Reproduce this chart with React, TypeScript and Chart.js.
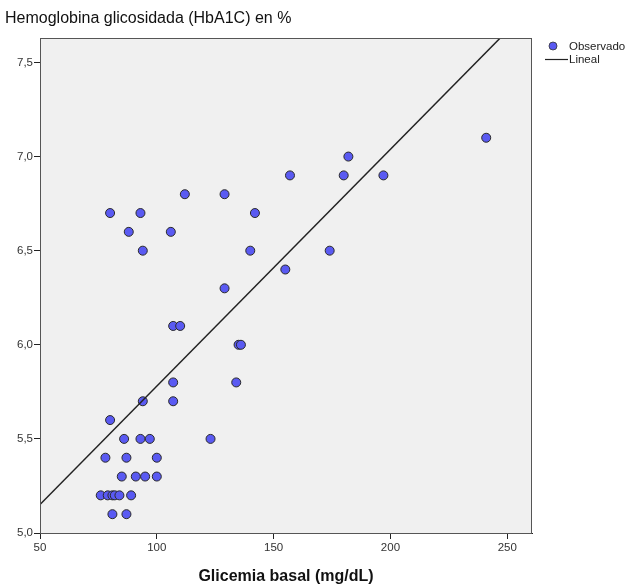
import React, { useEffect, useRef } from "react";
import { Chart, registerables } from "chart.js";

Chart.register(...registerables);

const glicemia: number[] = [
  107, 134, 94, 107, 80, 86, 93, 97, 123, 78, 87, 100, 85, 91, 95, 100,
  76, 79, 81, 82, 84, 89, 81, 87,
  112, 129, 80, 93, 142, 88, 106, 94, 140, 129, 107, 110, 135, 136,
  241, 182, 157, 180, 197, 174, 155,
];
const hba1c: number[] = [
  5.8, 5.8, 5.7, 5.7, 5.6, 5.5, 5.5, 5.5, 5.5, 5.4, 5.4, 5.4, 5.3, 5.3, 5.3, 5.3,
  5.2, 5.2, 5.2, 5.2, 5.2, 5.2, 5.1, 5.1,
  6.8, 6.8, 6.7, 6.7, 6.7, 6.6, 6.6, 6.5, 6.5, 6.3, 6.1, 6.1, 6.0, 6.0,
  7.1, 7.0, 6.9, 6.9, 6.9, 6.5, 6.4,
];
const lineX: number[] = [50, 247];
const lineY: number[] = [5.151, 7.63];
const xTicks: number[] = [50, 100, 150, 200, 250];
const yTicks: number[] = [5.0, 5.5, 6.0, 6.5, 7.0, 7.5];

const TITLE = "Hemoglobina glicosidada (HbA1C) en %";
const X_TITLE = "Glicemia basal (mg/dL)";
const FONT = "'Liberation Sans', Arial, sans-serif";

export default function App() {
  const ref = useRef<HTMLCanvasElement | null>(null);

  useEffect(() => {
    if (!ref.current) return;
    const decor = {
      id: "decor",
      beforeDatasetsDraw(chart: any) {
        const { ctx, chartArea: a } = chart;
        ctx.save();
        ctx.fillStyle = "#F0F0F0";
        ctx.fillRect(a.left, a.top, a.right - a.left, a.bottom - a.top);
        ctx.restore();
      },
      afterDraw(chart: any) {
        const { ctx, chartArea: a } = chart;
        ctx.save();
        ctx.strokeStyle = "#555";
        ctx.lineWidth = 1;
        ctx.strokeRect(a.left + 0.5, a.top + 0.5, a.right - a.left - 1, a.bottom - a.top);
        ctx.fillStyle = "#111";
        ctx.font = `16px ${FONT}`;
        ctx.textAlign = "left";
        ctx.textBaseline = "middle";
        ctx.fillText(TITLE, 5, 19);
        ctx.font = `bold 16px ${FONT}`;
        ctx.textAlign = "center";
        ctx.fillText(X_TITLE, (a.left + a.right) / 2, 577);
        // legend
        ctx.font = `11.5px ${FONT}`;
        ctx.textAlign = "left";
        ctx.beginPath();
        ctx.arc(553, 46, 4, 0, Math.PI * 2);
        ctx.fillStyle = "#5A5AF2";
        ctx.fill();
        ctx.strokeStyle = "#333";
        ctx.lineWidth = 0.8;
        ctx.stroke();
        ctx.fillStyle = "#222";
        ctx.fillText("Observado", 569, 47);
        ctx.beginPath();
        ctx.moveTo(545, 59.5);
        ctx.lineTo(568, 59.5);
        ctx.strokeStyle = "#222";
        ctx.lineWidth = 1.2;
        ctx.stroke();
        ctx.fillText("Lineal", 569, 60);
        ctx.restore();
      },
    };

    const chart = new Chart(ref.current, {
      type: "scatter",
      data: {
        datasets: [
          {
            type: "line",
            label: "Lineal",
            data: lineX.map((x, i) => ({ x, y: lineY[i] })),
            borderColor: "#222",
            borderWidth: 1.5,
            pointRadius: 0,
            fill: false,
          } as any,
          {
            label: "Observado",
            data: glicemia.map((x, i) => ({ x, y: hba1c[i] })),
            backgroundColor: "#5A5AF2",
            borderColor: "#2a2a2a",
            borderWidth: 1,
            pointRadius: 4.5,
          },
        ],
      },
      options: {
        responsive: false,
        animation: false,
        layout: { padding: { top: 38, right: 97, bottom: 0, left: 0 } },
        plugins: { legend: { display: false }, title: { display: false }, tooltip: { enabled: false } },
        scales: {
          x: {
            type: "linear",
            min: 50,
            max: 260.6,
            afterFit: (s: any) => { s.height = 54; },
            afterBuildTicks: (s: any) => { s.ticks = xTicks.map((v) => ({ value: v })); },
            grid: { display: true, drawOnChartArea: false, drawTicks: true, tickLength: 6, color: "#222" },
            border: { display: true, color: "#222", width: 1 },
            ticks: {
              color: "#333",
              font: { family: FONT, size: 11.5 },
              padding: 2,
              maxRotation: 0,
              callback: (v: any) => String(v),
            },
          },
          y: {
            type: "linear",
            min: 5.0,
            max: 7.63,
            afterFit: (s: any) => { s.width = 40; },
            afterBuildTicks: (s: any) => { s.ticks = yTicks.map((v) => ({ value: v })); },
            grid: { display: true, drawOnChartArea: false, drawTicks: true, tickLength: 6, color: "#222" },
            border: { display: true, color: "#222", width: 1 },
            ticks: {
              color: "#333",
              font: { family: FONT, size: 11.5 },
              padding: 1,
              callback: (v: any) => Number(v).toFixed(1).replace(".", ","),
            },
          },
        },
      },
      plugins: [decor],
    });
    return () => chart.destroy();
  }, []);

  return (
    <div style={{ position: "fixed", left: 0, top: 0, width: 629, height: 587, background: "#fff" }}>
      <canvas ref={ref} width={629} height={587} style={{ width: 629, height: 587, display: "block" }} />
    </div>
  );
}
